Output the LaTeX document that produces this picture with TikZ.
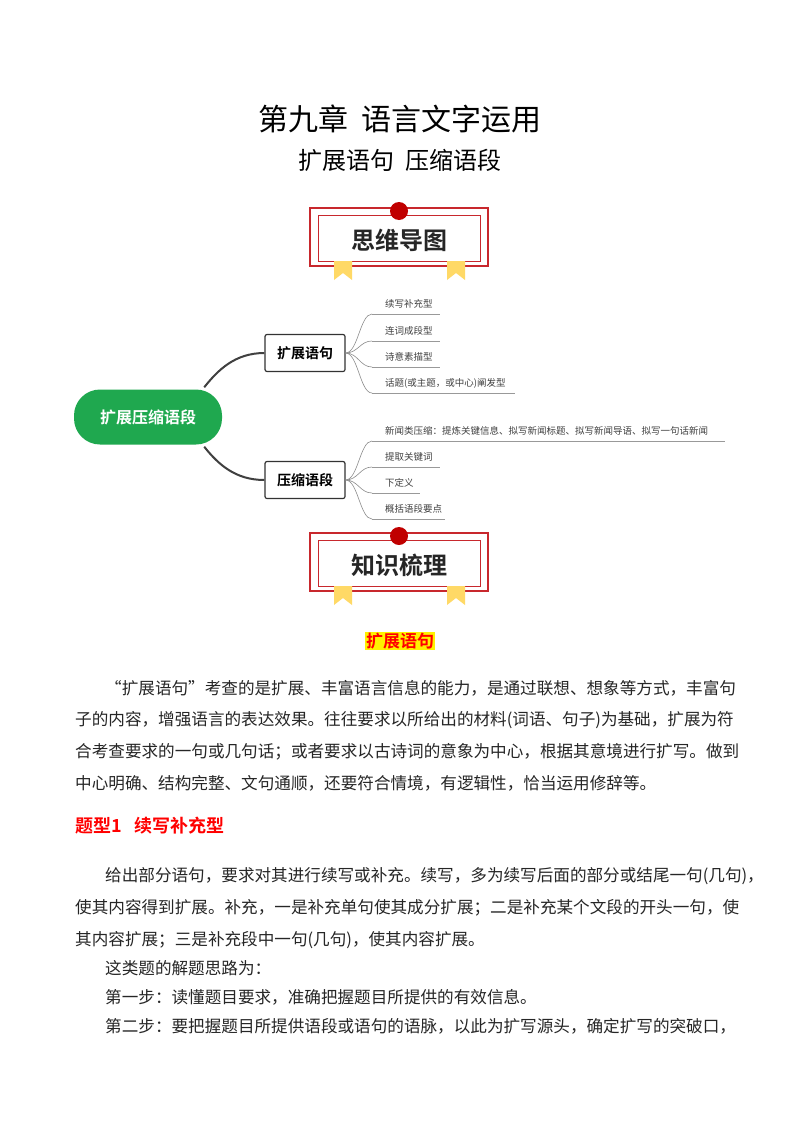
\documentclass[tikz,border=0pt]{standalone}
\usepackage{fontspec}
\setmainfont{Noto Sans CJK SC}
\newfontfamily\cjkb{Noto Sans CJK SC Bold}
\usetikzlibrary{positioning}
\definecolor{boxred}{HTML}{C8282D}
\definecolor{dotred}{HTML}{C00000}
\definecolor{ribbon}{HTML}{FFD966}
\definecolor{mmgreen}{HTML}{1FA84F}
\tikzset{
  body/.style={anchor=west,inner sep=0pt,font=\fontsize{16.6}{17}\selectfont,text=black!85},
  leaf/.style={anchor=west,inner sep=0pt,font=\fontsize{9.5}{10}\selectfont,text=black!75},
  branch/.style={draw=black!80,line width=1.2pt,rounded corners=2pt,fill=white,minimum width=80pt,minimum height=37pt,font=\cjkb\fontsize{14}{15}\selectfont},
  conn/.style={draw=black!75,line width=2pt},
  fan/.style={draw=black!45,line width=0.6pt},
  uline/.style={draw=black!40,line width=0.6pt}
}
\newcommand{\titlebox}[3]{%
  \draw[boxred,line width=1.2pt] (310,#1) rectangle (488,#1+58);
  \draw[boxred,line width=0.7pt] (318,#1+7) rectangle (480,#1+53);
  \fill[ribbon] (334,#1+53) -- (352,#1+53) -- (352,#1+72) -- (343,#1+65) -- (334,#1+72) -- cycle;
  \fill[ribbon] (447,#1+53) -- (465,#1+53) -- (465,#1+72) -- (456,#1+65) -- (447,#1+72) -- cycle;
  \fill[dotred] (399,#1+3) circle (9);
  \node[font=\cjkb\fontsize{24}{26}\selectfont,text=black!85] (#3) at (399,#1+32) {#2};
}
\begin{document}
\begin{tikzpicture}[x=1pt,y=-1pt]
\useasboundingbox[fill=white] (0,0) rectangle (800,1132);
\node[font=\fontsize{30}{31}\selectfont] (title) at (400,119) {第九章\ \ 语言文字运用};
\node[font=\fontsize{24}{25}\selectfont] (sub) at (400,160) {扩展语句\ \ 压缩语段};
\titlebox{208}{思维导图}{tb1}
\titlebox{533}{知识梳理}{tb2}
% mind map
\node[fill=mmgreen,rounded corners=26pt,minimum width=148pt,minimum height=55pt,text=white,font=\cjkb\fontsize{16}{18}\selectfont] (root) at (148,417) {扩展压缩语段};
\node[branch] (b1) at (305,353) {扩展语句};
\node[branch] (b2) at (305,480) {压缩语段};
\draw[conn] (root.north east)++(-18,-2) .. controls (218,370) and (235,353) .. (b1.west);
\draw[conn] (root.south east)++(-18,2) .. controls (218,464) and (235,480) .. (b2.west);
\foreach \t/\y/\e/\n in {续写补充型/314/440/l1,连词成段型/341/440/l2,诗意素描型/367/440/l3,话题(或主题，或中心)阐发型/393/515/l4}{
  \node[leaf] (\n) at (385,\y-10) {\t};
  \coordinate (\n s) at (372,\y);
  \coordinate (\n e) at (\e,\y);
  \draw[uline] (\n s) -- (\n e);
  \draw[fan] (b1.east) .. controls (358,353) and (360,\y) .. (\n s);
}
\foreach \t/\y/\e/\n in {新闻类压缩：提炼关键信息、拟写新闻标题、拟写新闻导语、拟写一句话新闻/441/725/m1,提取关键词/467/440/m2,下定义/493/420/m3,概括语段要点/519/445/m4}{
  \node[leaf] (\n) at (385,\y-10) {\t};
  \coordinate (\n s) at (372,\y);
  \coordinate (\n e) at (\e,\y);
  \draw[uline] (\n s) -- (\n e);
  \draw[fan] (b2.east) .. controls (358,480) and (360,\y) .. (\n s);
}
% text
\node[fill=yellow,text=red,inner sep=1pt,font=\cjkb\fontsize{17}{18}\selectfont] (h1) at (400,641) {扩展语句};
\node[body] (p1a) at (105,688) {“扩展语句”考查的是扩展、丰富语言信息的能力，是通过联想、想象等方式，丰富句};
\node[body] (p1b) at (75,720) {子的内容，增强语言的表达效果。往往要求以所给出的材料(词语、句子)为基础，扩展为符};
\node[body] (p1c) at (75,752) {合考查要求的一句或几句话；或者要求以古诗词的意象为中心，根据其意境进行扩写。做到};
\node[body] (p1d) at (75,783) {中心明确、结构完整、文句通顺，还要符合情境，有逻辑性，恰当运用修辞等。};
\node[anchor=west,inner sep=0pt,text=red,font=\cjkb\fontsize{18}{19}\selectfont] (h2) at (75,826) {题型1\ \ \ 续写补充型};
\node[body] (p2a) at (105,876) {给出部分语句，要求对其进行续写或补充。续写，多为续写后面的部分或结尾一句(几句)，};
\node[body] (p2b) at (75,908) {使其内容得到扩展。补充，一是补充单句使其成分扩展；二是补充某个文段的开头一句，使};
\node[body] (p2c) at (75,940) {其内容扩展；三是补充段中一句(几句)，使其内容扩展。};
\node[body] (p3) at (105,968) {这类题的解题思路为：};
\node[body] (p4) at (105,997) {第一步：读懂题目要求，准确把握题目所提供的有效信息。};
\node[body] (p5) at (105,1026) {第二步：要把握题目所提供语段或语句的语脉，以此为扩写源头，确定扩写的突破口，};
\end{tikzpicture}
\end{document}
